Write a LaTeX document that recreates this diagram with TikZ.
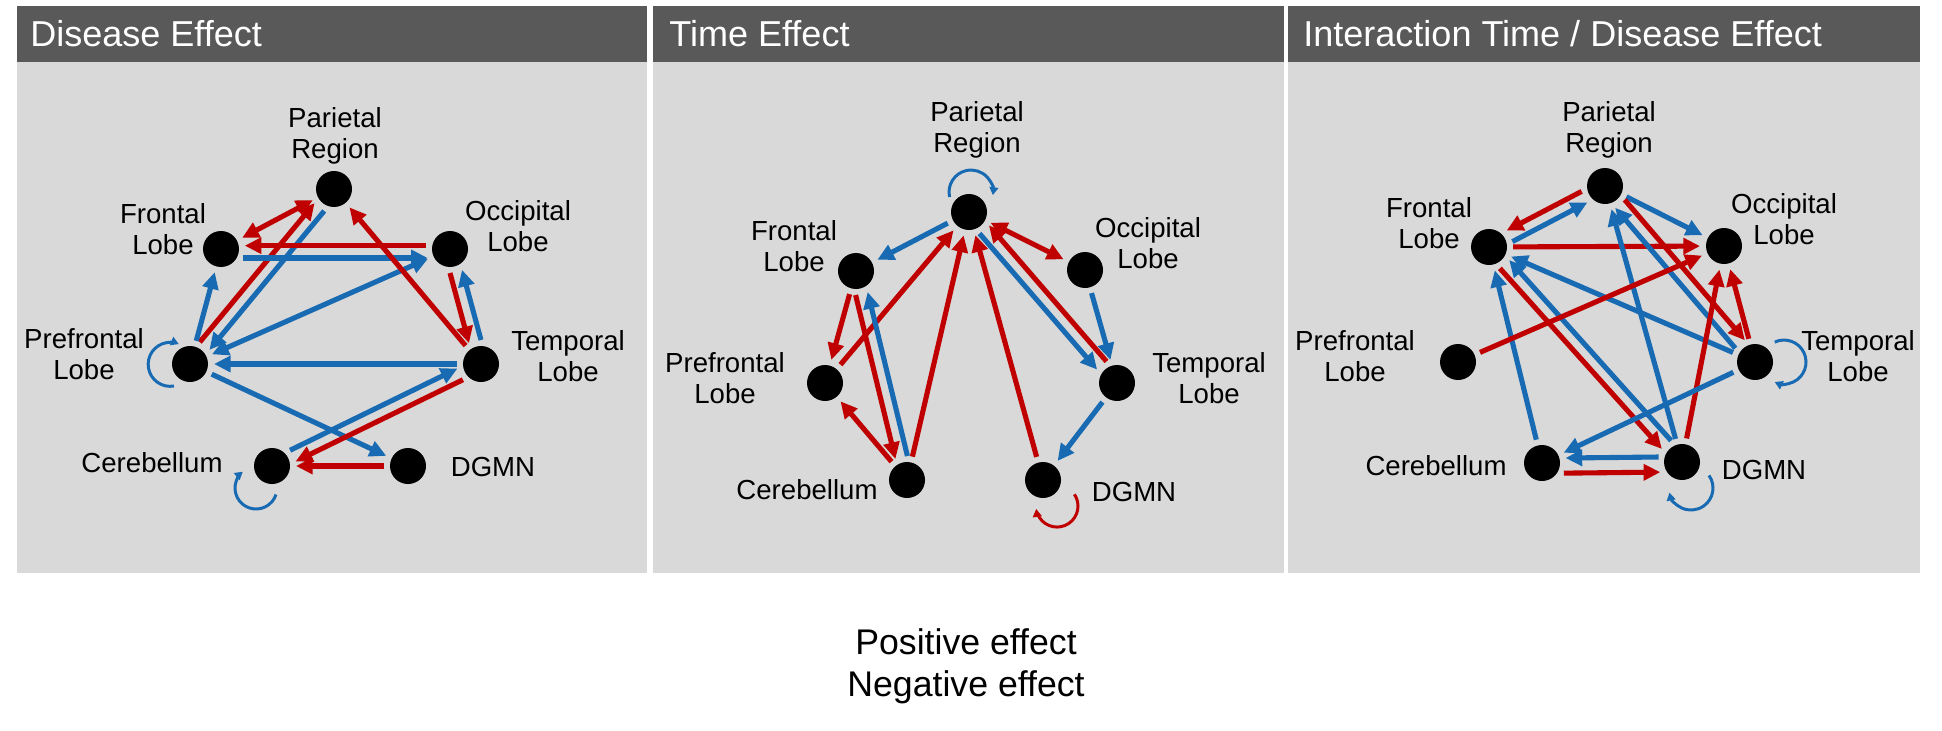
\documentclass[tikz,border=0pt]{standalone}
\usepackage{fontspec}
\setmainfont{Liberation Sans}
\usepackage{tikz}
\usetikzlibrary{arrows.meta,calc}
\usepackage{xcolor}
\definecolor{posblue}{RGB}{24,107,178}
\definecolor{negred}{RGB}{192,0,0}
\definecolor{headgray}{RGB}{89,89,89}
\definecolor{panelgray}{RGB}{217,217,217}

\begin{document}
\begin{tikzpicture}[x=0.02cm,y=-0.02cm,>={Triangle[length=9.5pt,width=9pt]},
		main node/.style={circle,fill=black,minimum size=0.72cm,inner sep=0pt,outer sep=0.12cm},
		region/.style={font=\fontsize{15.7}{17.6}\selectfont,align=center,inner sep=0pt},
		title/.style={font=\fontsize{20.5}{24}\selectfont,text=white,anchor=west,inner sep=0pt},
		legend/.style={font=\fontsize{20.3}{23.9}\selectfont,align=center,inner sep=0pt},
		posline/.style={draw=posblue,line width=2.9pt},
		negline/.style={draw=negred,line width=2.9pt},
		pos loop/.style={draw=posblue,line width=1.7pt,>={Triangle[length=4.5pt,width=5pt]},->},
		neg loop/.style={draw=negred,line width=1.7pt,>={Triangle[length=4.5pt,width=5pt]},->}]
	\useasboundingbox (0,0) rectangle (1942,730);

	% Panels
	\fill[panelgray] (17,6) rectangle (647,573);
	\fill[panelgray] (653,6) rectangle (1284,573);
	\fill[panelgray] (1288,6) rectangle (1920,573);
	\fill[headgray] (17,6) rectangle (647,62);
	\fill[headgray] (653,6) rectangle (1284,62);
	\fill[headgray] (1288,6) rectangle (1920,62);
	\node[title] (head1) at (30,34) {Disease Effect};
	\node[title] (head2) at (669,34) {Time Effect};
	\node[title] (head3) at (1303,34) {Interaction Time / Disease Effect};

	% Nodes: disease effect
	\node[main node] (PR1) at (334,189) {};
	\node[main node] (FL1) at (221,249) {};
	\node[main node] (OL1) at (450,249) {};
	\node[main node] (PL1) at (190,364) {};
	\node[main node] (TL1) at (481,364) {};
	\node[main node] (CB1) at (272,466) {};
	\node[main node] (DG1) at (408,466) {};
	\node[region] (PR1t) at (335,136) {Parietal\\Region};
	\node[region] (FL1t) at (163,229) {Frontal\\Lobe};
	\node[region] (OL1t) at (518,226) {Occipital\\Lobe};
	\node[region] (PL1t) at (84,354) {Prefrontal\\Lobe};
	\node[region] (TL1t) at (568,356) {Temporal\\Lobe};
	\node[region] (CB1t) at (152,463) {Cerebellum};
	\node[region] (DG1t) at (493,467) {DGMN};

	% Edges: disease effect
	\draw[negline,<->] (FL1) -- (PR1);
	\draw[negline,->] (PL1.66) -- (PR1.216);
	\draw[posline,->] (PR1.246) -- (PL1.36);
	\draw[negline,->] (OL1.172) -- (FL1.8);
	\draw[posline,->] (FL1.-22) -- (OL1.202);
	\draw[posline,<->] (OL1) -- (PL1);
	\draw[posline,->] (PL1) -- (FL1);
	\draw[negline,->] (TL1) -- (PR1);
	\draw[negline,->] (OL1.-90) -- (TL1.120);
	\draw[posline,->] (TL1.90) -- (OL1.-60);
	\draw[posline,->] (TL1) -- (PL1);
	\draw[posline,->] (PL1) -- (DG1);
	\draw[posline,->] (CB1.41) -- (TL1.191);
	\draw[negline,->] (TL1.221) -- (CB1.11);
	\draw[negline,->] (DG1) -- (CB1);
	\draw[pos loop] ($(PL1)+(-16,22)$) arc[start angle=-280,end angle=-67,radius=22];
	\draw[pos loop] ($(CB1)+(4,28.5)$) arc[start angle=18,end angle=231,radius=21];

	% Nodes: time effect
	\node[main node] (PR2) at (969,212) {};
	\node[main node] (FL2) at (856,271) {};
	\node[main node] (OL2) at (1085,270) {};
	\node[main node] (PL2) at (825,383) {};
	\node[main node] (TL2) at (1117,383) {};
	\node[main node] (CB2) at (907,480) {};
	\node[main node] (DG2) at (1043,480) {};
	\node[region] (PR2t) at (977,130) {Parietal\\Region};
	\node[region] (FL2t) at (794,246) {Frontal\\Lobe};
	\node[region] (OL2t) at (1148,243) {Occipital\\Lobe};
	\node[region] (PL2t) at (725,378) {Prefrontal\\Lobe};
	\node[region] (TL2t) at (1209,378) {Temporal\\Lobe};
	\node[region] (CB2t) at (807,490) {Cerebellum};
	\node[region] (DG2t) at (1134,492) {DGMN};

	% Edges: time effect
	\draw[pos loop] ($(PR2)+(-19.4,-15)$) arc[start angle=-193,end angle=8,radius=22];
	\draw[posline,->] (PR2) -- (FL2);
	\draw[negline,->] (PL2) -- (PR2);
	\draw[negline,->] (CB2) -- (PR2);
	\draw[negline,->] (DG2) -- (PR2);
	\draw[posline,->] (PR2.-64) -- (TL2.146);
	\draw[negline,->] (TL2.116) -- (PR2.-34);
	\draw[negline,<->] (PR2) -- (OL2);
	\draw[posline,->] (OL2) -- (TL2);
	\draw[posline,->] (TL2) -- (DG2);
	\draw[negline,->] (FL2) -- (PL2);
	\draw[negline,->] (FL2.-91) -- (CB2.119);
	\draw[posline,->] (CB2.89) -- (FL2.-61);
	\draw[negline,->] (CB2) -- (PL2);
	\draw[neg loop] ($(DG2)+(31.4,14.3)$) arc[start angle=-34,end angle=172,radius=21];

	% Nodes: interaction
	\node[main node] (PR3) at (1605,186) {};
	\node[main node] (FL3) at (1489,247) {};
	\node[main node] (OL3) at (1724,246) {};
	\node[main node] (PL3) at (1458,362) {};
	\node[main node] (TL3) at (1755,362) {};
	\node[main node] (CB3) at (1542,463) {};
	\node[main node] (DG3) at (1682,462) {};
	\node[region] (PR3t) at (1609,130) {Parietal\\Region};
	\node[region] (FL3t) at (1429,223) {Frontal\\Lobe};
	\node[region] (OL3t) at (1784,219) {Occipital\\Lobe};
	\node[region] (PL3t) at (1355,356) {Prefrontal\\Lobe};
	\node[region] (TL3t) at (1858,356) {Temporal\\Lobe};
	\node[region] (CB3t) at (1436,466) {Cerebellum};
	\node[region] (DG3t) at (1764,470) {DGMN};

	% Edges: interaction
	\draw[negline,->] (PR3.193) -- (FL3.43);
	\draw[posline,->] (FL3.13) -- (PR3.223);
	\draw[negline,->] (FL3) -- (OL3);
	\draw[posline,->] (PR3) -- (OL3);
	\draw[negline,->] (PR3.-35) -- (TL3.115);
	\draw[posline,->] (TL3.145) -- (PR3.-65);
	\draw[posline,->] (DG3) -- (PR3);
	\draw[negline,->] (FL3.-63) -- (DG3.147);
	\draw[posline,->] (DG3.117) -- (FL3.-33);
	\draw[posline,->] (TL3) -- (FL3);
	\draw[posline,->] (CB3) -- (FL3);
	\draw[negline,->] (PL3) -- (OL3);
	\draw[negline,->] (TL3) -- (OL3);
	\draw[negline,->] (DG3) -- (OL3);
	\draw[posline,->] (TL3) -- (CB3);
	\draw[posline,->] (DG3.168) -- (CB3.12);
	\draw[negline,->] (CB3.-25) -- (DG3.205);
	\draw[pos loop] ($(TL3)+(19.7,-19.9)$) arc[start angle=-115,end angle=115,radius=22];
	\draw[pos loop] ($(DG3)+(27,13.4)$) arc[start angle=-35,end angle=168,radius=22];

	% Legend
	\node[legend] (leg) at (966,666) {Positive effect\\Negative effect};
\end{tikzpicture}
\end{document}
